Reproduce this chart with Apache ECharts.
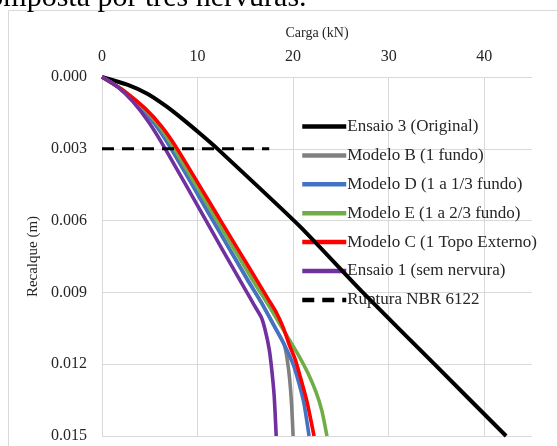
<!DOCTYPE html>
<html>
<head>
<meta charset="utf-8">
<script src="https://cdn.jsdelivr.net/npm/echarts@6/dist/echarts.min.js"></script>
<style>
html,body{margin:0;padding:0;background:#fff;}
#chart{width:557px;height:446px;}
</style>
</head>
<body>
<div id="chart"></div>
<script>
// ---- data (load in kN, settlement in m) ----
const xTicks = [0, 10, 20, 30, 40];
const yTicks = [0.000, 0.003, 0.006, 0.009, 0.012, 0.015];

const seriesNames = [
  'Ensaio 3 (Original)',
  'Modelo B (1 fundo)',
  'Modelo D (1 a 1/3 fundo)',
  'Modelo E (1 a 2/3 fundo)',
  'Modelo C (1 Topo Externo)',
  'Ensaio 1 (sem nervura)',
  'Ruptura NBR 6122'
];

const ensaio3Load   = [0, 2.71, 4.79, 6.67, 8.54, 10.31, 11.98, 20.63, 27.29, 34.79, 42.29];
const ensaio3Settle = [0, 0.00033, 0.00071, 0.00121, 0.00179, 0.00238, 0.00296, 0.00621, 0.009, 0.012, 0.015];

const modeloBLoad   = [0, 1.98, 3.85, 5.57, 7.19, 11.56, 15.21, 16.67, 17.92, 19.06, 19.38, 19.64, 19.84, 20.0];
const modeloBSettle = [0, 0.0005, 0.00117, 0.00198, 0.00296, 0.00596, 0.00846, 0.00942, 0.01033, 0.01117, 0.01179, 0.01263, 0.01367, 0.015];

const modeloDLoad   = [0, 1.98, 3.85, 5.57, 7.19, 11.56, 15.21, 16.67, 17.92, 19.06, 20.0, 20.63, 21.15, 21.67];
const modeloDSettle = [0, 0.0005, 0.00117, 0.00198, 0.00296, 0.00596, 0.00846, 0.00942, 0.01033, 0.01117, 0.012, 0.01283, 0.01367, 0.015];

const modeloELoad   = [0, 2.19, 4.17, 5.94, 7.5, 11.98, 15.73, 17.5, 18.75, 19.69, 20.63, 21.56, 22.4, 23.02, 23.54];
const modeloESettle = [0, 0.00054, 0.00123, 0.00202, 0.00296, 0.00596, 0.00846, 0.00958, 0.01042, 0.01104, 0.01167, 0.01238, 0.01317, 0.01396, 0.015];

const modeloCLoad   = [0, 2.36, 4.46, 6.27, 7.81, 12.35, 14.25, 16.15, 17.41, 18.23, 18.96, 19.58, 20.21, 20.73, 21.46, 22.19];
const modeloCSettle = [0, 0.0006, 0.00129, 0.00208, 0.00296, 0.00596, 0.00721, 0.00846, 0.00929, 0.00983, 0.01046, 0.01117, 0.01179, 0.0125, 0.01358, 0.015];

const ensaio1Load   = [0, 1.6, 3.23, 4.88, 6.56, 10.83, 12.6, 15.0, 15.88, 16.67, 17.08, 17.5, 17.76, 18.02, 18.23];
const ensaio1Settle = [0, 0.0004, 0.00103, 0.00188, 0.00296, 0.00596, 0.00721, 0.00888, 0.0095, 0.01004, 0.01058, 0.01138, 0.01221, 0.01333, 0.015];

const rupturaLoad   = [0, 17.5];
const rupturaSettle = [0.003, 0.003];

const colors = ['#000000', '#808080', '#4472C4', '#70AD47', '#FF0000', '#7030A0', '#000000'];

// ---- build ----
function zip(a, b) { return a.map((v, i) => [v, b[i]]); }
const FONT = "'Liberation Serif', 'Times New Roman', serif";

const loads = [ensaio3Load, modeloBLoad, modeloDLoad, modeloELoad, modeloCLoad, ensaio1Load, rupturaLoad];
const settles = [ensaio3Settle, modeloBSettle, modeloDSettle, modeloESettle, modeloCSettle, ensaio1Settle, rupturaSettle];

const series = seriesNames.map((name, i) => ({
  name: name,
  type: 'line',
  data: zip(loads[i], settles[i]),
  symbol: 'none',
  smooth: i === 6 ? false : 0.2,
  z: 5,
  lineStyle: {
    color: colors[i],
    width: i === 0 ? 4 : (i === 6 ? 3 : 3.6),
    type: i === 6 ? [12, 8] : 'solid',
    cap: 'butt',
    join: 'round'
  },
  itemStyle: { color: colors[i] }
}));

const chart = echarts.init(document.getElementById('chart'), null, { renderer: 'canvas' });
chart.setOption({
  animation: false,
  backgroundColor: '#ffffff',
  color: colors,
  graphic: [
    {
      type: 'rect',
      shape: { x: 8.5, y: 10.5, width: 560, height: 450 },
      style: { fill: 'none', stroke: '#d9d9d9', lineWidth: 1 },
      z: 0
    },
    {
      type: 'text',
      left: -25,
      top: -17,
      style: {
        text: 'composta por três nervuras.',
        font: '30px ' + FONT,
        fill: '#000000'
      },
      z: 10
    }
  ],
  grid: { left: 102, top: 77, right: 25, bottom: 10, containLabel: false },
  legend: {
    data: seriesNames,
    orient: 'vertical',
    left: 295,
    top: 113,
    itemWidth: 44,
    itemHeight: 16,
    itemGap: 11.9,
    z: 1,
    lineStyle: { width: 4.5 },
    itemStyle: { opacity: 0, borderWidth: 0 },
    textStyle: { fontFamily: FONT, fontSize: 17, color: '#262626', lineHeight: 16, padding: [0, 0, 0, -4] }
  },
  xAxis: {
    type: 'value',
    position: 'top',
    min: 0,
    max: 45,
    interval: 10,
    name: 'Carga (kN)',
    nameLocation: 'middle',
    nameGap: 37,
    nameTextStyle: { fontFamily: FONT, fontSize: 14, color: '#262626' },
    axisLine: { show: true, lineStyle: { color: '#d9d9d9', width: 1 } },
    axisTick: { show: false },
    axisLabel: {
      fontFamily: FONT, fontSize: 16, color: '#262626', margin: 12,
      showMaxLabel: false,
      formatter: v => (xTicks.indexOf(v) >= 0 ? String(v) : '')
    },
    splitLine: { show: true, showMaxLine: false, lineStyle: { color: '#d9d9d9', width: 1 } }
  },
  yAxis: {
    type: 'value',
    inverse: true,
    min: 0,
    max: 0.015,
    interval: 0.003,
    name: 'Recalque (m)',
    nameLocation: 'middle',
    nameGap: 60,
    nameRotate: 90,
    nameTextStyle: { fontFamily: FONT, fontSize: 15, color: '#262626' },
    axisLine: { show: true, lineStyle: { color: '#d9d9d9', width: 1 } },
    axisTick: { show: false },
    axisLabel: {
      fontFamily: FONT, fontSize: 16, color: '#262626', margin: 15,
      formatter: v => {
        const t = yTicks.find(k => Math.abs(k - v) < 1e-9);
        return t === undefined ? '' : t.toFixed(3);
      }
    },
    splitLine: { show: true, lineStyle: { color: '#d9d9d9', width: 1 } }
  },
  series: series
});
</script>
</body>
</html>
